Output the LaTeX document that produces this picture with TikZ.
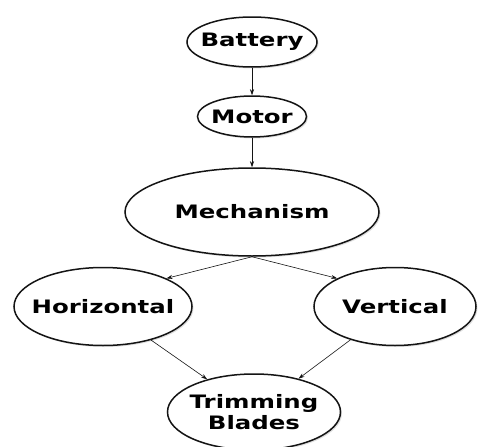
\documentclass[tikz,border=0pt]{standalone}
\usepackage{fontspec}
\newfontfamily\labelfont[FakeStretch=1.32]{DejaVu Sans}
\usetikzlibrary{arrows.meta,positioning,shapes.geometric,shadows}
\definecolor{inkBlack}{RGB}{20,20,20}
% zero-width label, so the ellipse keeps its own size
\newcommand{\lbl}[1]{\makebox[0pt][c]{#1}}
\tikzset{
  stage/.style={ellipse, draw=inkBlack, line width=1.5pt, fill=white, inner sep=0pt, align=center,
    font=\labelfont\bfseries\fontsize{18.5}{21}\selectfont,
    drop shadow={shadow xshift=1.5pt, shadow yshift=-1.5pt, opacity=0.25, fill=gray}},
  link/.style={-{Stealth[length=6pt, width=4pt]}, line width=0.6pt, draw=inkBlack}
}

\begin{document}
\begin{tikzpicture}[x=1pt, y=1pt]
    \useasboundingbox (0,0) rectangle (482,-447);
    \node[stage, minimum width=130pt, minimum height=50pt] (bat) at (252,-42) {\lbl{Battery}};
    \node[stage, minimum width=109pt, minimum height=41pt, below=27.5pt of bat] (motor) {\lbl{Motor}};
    \node[stage, minimum width=254pt, minimum height=88pt, below=29.5pt of motor] (mech) {\lbl{Mechanism}};
    \node[stage, minimum width=178pt, minimum height=78pt, below=10pt of mech, xshift=-149pt] (horiz) {\lbl{Horizontal}};
    \node[stage, minimum width=162pt, minimum height=78pt, below=10pt of mech, xshift=143pt] (vert) {\lbl{Vertical}};
    \node[stage, minimum width=173pt, minimum height=76pt, below=27pt of horiz, xshift=151pt] (blades) {\lbl{Trimming}\\\lbl{Blades}};
    \draw[link] (bat) -- (motor);
    \draw[link] (motor) -- (mech);
    \draw[link] (mech.south) -- (horiz.north east);
    \draw[link] (mech.south) -- (vert.north west);
    \draw[link] (horiz) -- (blades);
    \draw[link] (vert) -- (blades);
\end{tikzpicture}
\end{document}
